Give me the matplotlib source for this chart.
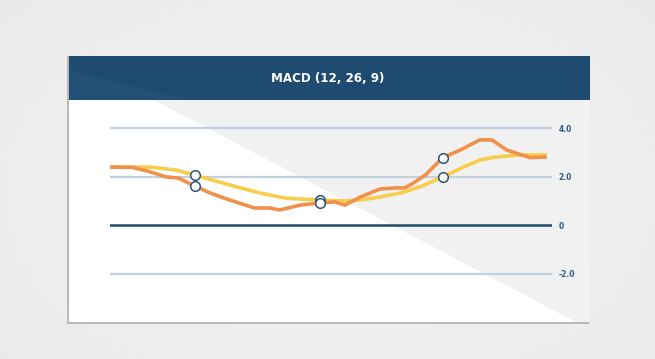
import matplotlib
matplotlib.use("Agg")
import matplotlib.pyplot as plt
from matplotlib.patches import Rectangle, Polygon
import numpy as np

# ---- data ----
title = "MACD (12, 26, 9)"
macd_x = [0, 2.1, 3.4, 5.2, 6.25, 7.8, 9.2, 11, 13.3, 14.7, 15.6, 17.5, 19.3, 20.7,
          21.6, 23, 24.8, 26.2, 27.1, 27.9, 29, 30.6, 32.2, 34, 35.1, 36.5, 38.6, 40]
macd_y = [2.39, 2.37, 2.23, 1.98, 1.94, 1.61, 1.32, 1.03, 0.70, 0.70, 0.62, 0.82, 0.91, 0.95,
          0.82, 1.15, 1.48, 1.53, 1.53, 1.73, 2.06, 2.78, 3.09, 3.51, 3.51, 3.09, 2.78, 2.80]
signal_x = [0, 3.7, 6, 7.8, 11, 13.8, 16.1, 17.5, 19.3, 21.6, 23, 24.8, 26.7, 28.5,
            30.6, 32.2, 34, 35.4, 37.7, 40]
signal_y = [2.39, 2.39, 2.27, 2.06, 1.65, 1.32, 1.11, 1.07, 1.03, 0.99, 1.03, 1.15, 1.32, 1.57,
            1.98, 2.33, 2.68, 2.80, 2.89, 2.89]
cross_x = [7.8, 7.8, 19.3, 19.3, 30.6, 30.6]
cross_y = [2.06, 1.61, 1.03, 0.91, 1.98, 2.78]
grid_vals = [4.0, 2.0, -2.0]
tick_vals = [4.0, 2.0, 0.0, -2.0]
tick_labels = ["4.0", "2.0", "0", "-2.0"]

W, H = 655, 359
fig = plt.figure(figsize=(W / 100, H / 100), dpi=100)
fig.patch.set_facecolor("#e8e8e8")

# background / card in pixel coordinates
bg = fig.add_axes([0, 0, 1, 1])
bg.set_xlim(0, W)
bg.set_ylim(H, 0)
bg.axis("off")
yy, xx = np.mgrid[0:H, 0:W]
glow = np.exp(-(((xx - 330) / 420.0) ** 2 + ((yy - 190) / 260.0) ** 2))
img = np.zeros((H, W, 3))
base = 0.905 + 0.045 * glow
img[..., 0] = base
img[..., 1] = base
img[..., 2] = base
bg.imshow(img, extent=[0, W, H, 0], zorder=0, aspect="auto")

# card shadow/border
bg.add_patch(Rectangle((67, 56), 522, 268, facecolor="#b8b8b8", edgecolor="none", zorder=1))
bg.add_patch(Rectangle((69, 56), 521, 266, facecolor="#ffffff", edgecolor="none", zorder=2))
# diagonal gray region
bg.add_patch(Polygon([(154, 100), (590, 100), (590, 322), (576, 322)], closed=True,
                     facecolor="#f1f1f2", edgecolor="none", zorder=3))
# header
bg.add_patch(Rectangle((69, 56), 521, 44, facecolor="#1f4b70", edgecolor="none", zorder=4))
bg.add_patch(Polygon([(69, 70), (69, 100), (190, 100)], closed=True,
                     facecolor="#25527a", edgecolor="none", alpha=0.6, zorder=4))
bg.text(328, 79, title, color="white", fontsize=8.6, fontweight="bold",
        ha="center", va="center", family="DejaVu Sans", zorder=5)

# plot axes
x_left, x_right = 110, 552
y_top, y_bot = 110, 300
px_per_x = 10.875
px_per_v = 24.25
zero_px = 225
ax = fig.add_axes([x_left / W, 1 - y_bot / H, (x_right - x_left) / W, (y_bot - y_top) / H])
ax.set_xlim(0, (x_right - x_left) / px_per_x)
ax.set_ylim((zero_px - y_bot) / px_per_v, (zero_px - y_top) / px_per_v)
ax.patch.set_alpha(0)
for s in ax.spines.values():
    s.set_visible(False)
ax.set_xticks([])

for g in grid_vals:
    ax.axhline(g, color="#c3d0db", lw=1.6, zorder=1)
ax.axhline(0, color="#1e4a6f", lw=1.8, zorder=1)

ax.plot(signal_x, signal_y, color="#f8cd4c", lw=2.6, solid_joinstyle="round", zorder=2)
ax.plot(macd_x, macd_y, color="#f0904a", lw=2.6, solid_joinstyle="round", zorder=3)
ax.scatter(cross_x, cross_y, s=48, facecolor="white", edgecolor="#2a5679", linewidth=1.1, zorder=4)

ax.yaxis.tick_right()
ax.set_yticks(tick_vals)
ax.set_yticklabels(tick_labels)
ax.tick_params(axis="y", length=0, pad=4.5, labelsize=5.5, labelcolor="#2a5c8c")
for t in ax.get_yticklabels():
    t.set_fontweight("bold")

fig.savefig("out.png", dpi=100)
